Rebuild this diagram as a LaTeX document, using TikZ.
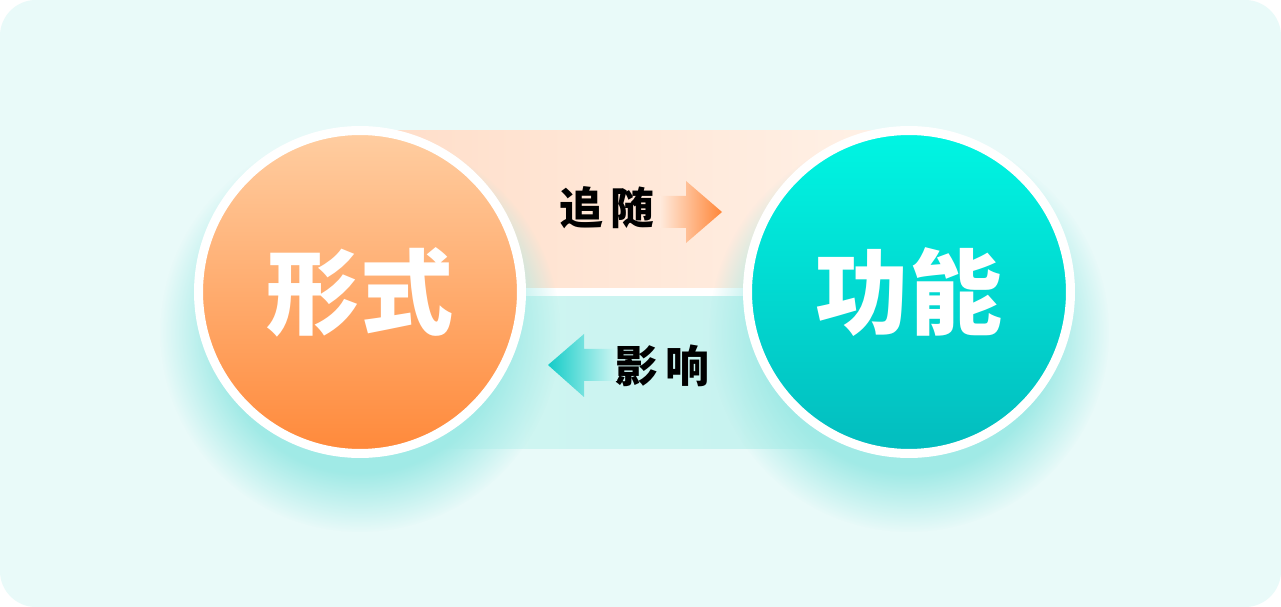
\documentclass[tikz,border=0pt]{standalone}
\usepackage{fontspec}
\newfontfamily\cjk{Noto Sans CJK SC}
\usepackage{tikz}
\usetikzlibrary{calc,positioning,fadings}

\definecolor{bgc}{RGB}{233,250,249}
\definecolor{glowc}{RGB}{160,234,230}
\definecolor{orgtop}{RGB}{255,206,162}
\definecolor{orgbot}{RGB}{255,137,58}
\definecolor{teatop}{RGB}{0,246,227}
\definecolor{teabot}{RGB}{3,188,190}
\definecolor{bandol}{RGB}{255,221,200}
\definecolor{bandor}{RGB}{255,242,232}
\definecolor{bandtl}{RGB}{212,246,243}
\definecolor{bandtr}{RGB}{194,242,238}
\definecolor{arrol}{RGB}{255,234,220}
\definecolor{arror}{RGB}{255,134,56}
\definecolor{arrtl}{RGB}{20,204,200}
\definecolor{arrtr}{RGB}{208,246,243}

\pgfdeclareradialshading{glowmask}{\pgfpointorigin}{color(0bp)=(white); color(17.5bp)=(white); color(25bp)=(black); color(50bp)=(black)}
\pgfdeclarefading{glowfade}{\pgfuseshading{glowmask}}

\tikzset{
  bubble/.style={circle, draw=white, line width=0.18cm, minimum size=6.46cm,
    inner sep=0pt, text=white, font=\cjk\bfseries\fontsize{53}{53}\selectfont},
  verb/.style={inner sep=0pt, text=black, font=\cjk\bfseries\fontsize{25}{25}\selectfont},
  halo/.style={fill=glowc, path fading=glowfade},
}

\begin{document}
\begin{tikzpicture}[x=0.02cm,y=-0.02cm]
  \useasboundingbox (0,0) rectangle (1281,607);
  \fill[white] (0,0) rectangle (1281,607);
  \fill[bgc, rounded corners=0.72cm] (0,0) rectangle (1281,607);

  % bands between the two circles
  \shade[left color=bandol, right color=bandor] (360,131) rectangle (909,288);
  \fill[white] (360,288) rectangle (909,297);
  \shade[left color=bandtl, right color=bandtr] (360,297) rectangle (909,449);

  % soft glow under the circles
  \foreach \c in {360,909} {\fill[halo] (\c,332) circle (4cm);};

  \node[bubble, top color=orgtop, bottom color=orgbot] (form) at (360,292) {形式};
  \node[bubble, top color=teatop, bottom color=teabot] (func) at (909,292) {功能};

  \node[verb] (follow) at (607,208) {追\kern0.18em 随};
  \node[verb] (affect) at (662,366) {影\kern0.18em 响};

  % block arrows
  \shade[left color=arrol, right color=arror]
    (660,196) -- (686,196) -- (686,181) -- (722,212) -- (686,243) -- (686,228) -- (660,228) -- cycle;
  \shade[left color=arrtl, right color=arrtr]
    (548,365) -- (584,334) -- (584,349) -- (617,349) -- (617,381) -- (584,381) -- (584,397) -- cycle;
\end{tikzpicture}
\end{document}
